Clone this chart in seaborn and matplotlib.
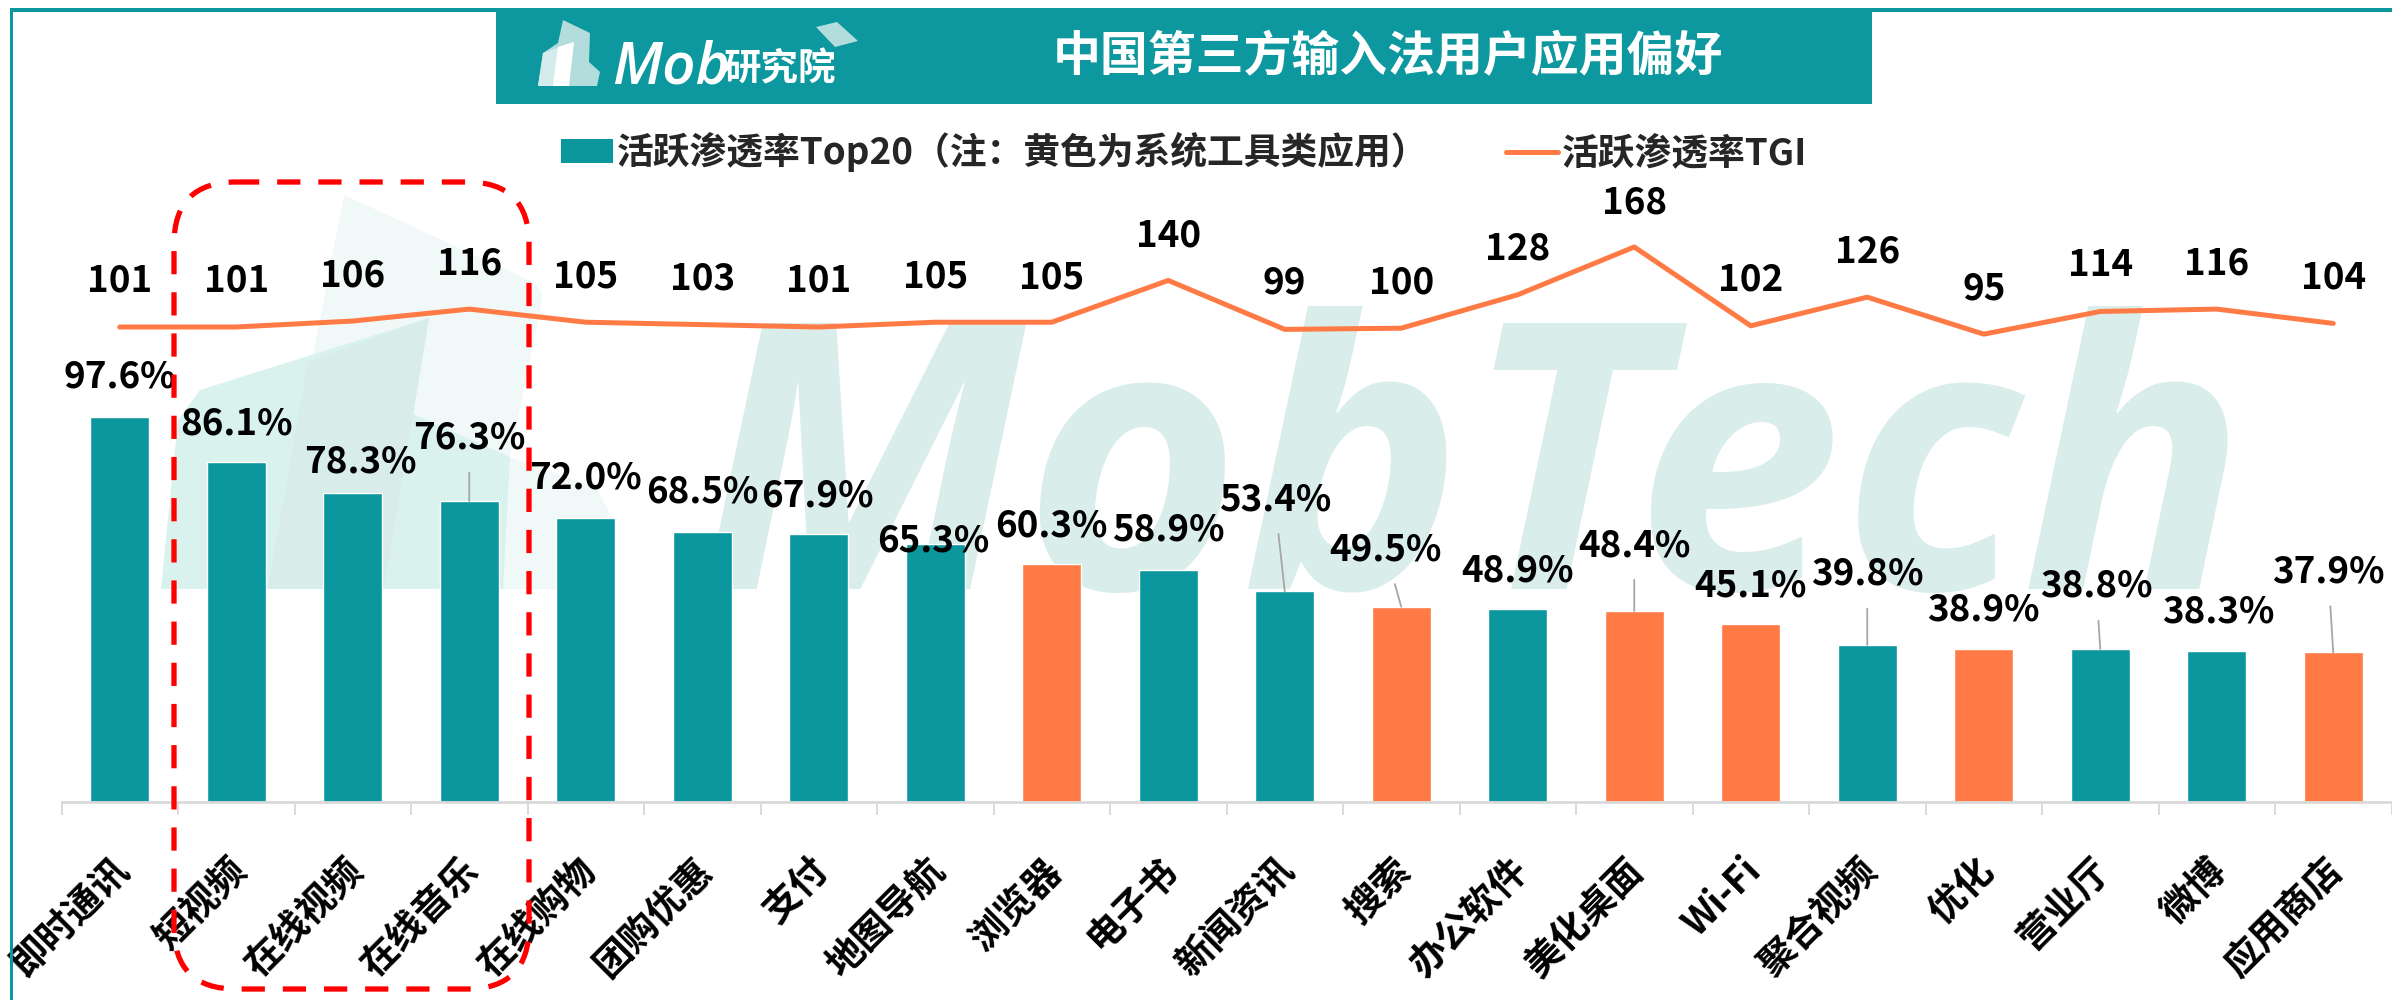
import numpy as np
import matplotlib
matplotlib.use('Agg')
import matplotlib.pyplot as plt
import seaborn as sns
from matplotlib.lines import Line2D
from matplotlib.patches import FancyBboxPatch, Patch, Polygon, Rectangle
from matplotlib.transforms import Affine2D, ScaledTranslation

# Data
categories = ['即时通讯', '短视频', '在线视频', '在线音乐', '在线购物', '团购优惠', '支付', '地图导航', '浏览器', '电子书',
              '新闻资讯', '搜索', '办公软件', '美化桌面', 'Wi-Fi', '聚合视频', '优化', '营业厅', '微博', '应用商店']
penetration = [97.6, 86.1, 78.3, 76.3, 72.0, 68.5, 67.9, 65.3, 60.3, 58.9,
               53.4, 49.5, 48.9, 48.4, 45.1, 39.8, 38.9, 38.8, 38.3, 37.9]
tgi = [101, 101, 106, 116, 105, 103, 101, 105, 105, 140,
       99, 100, 128, 168, 102, 126, 95, 114, 116, 104]
app_type = ['普通', '普通', '普通', '普通', '普通', '普通', '普通', '普通', '系统工具', '普通',
            '普通', '系统工具', '普通', '系统工具', '系统工具', '普通', '系统工具', '普通', '普通', '系统工具']

# Label offsets from the bar top / line point, in pixels
pct_dx = [0, 0, 8, 0, 0, 0, -1, -2, 0, 0, -10, -16, 0, 0, 0, 0, 0, -4, 2, -5]
pct_dy = [43, 42, 35, 66, 43, 43, 42, 7, 42, 43, 95, 60, 42, 69, 42, 74, 42, 66, 42, 84]
tgi_dy = [50, 49, 49, 49, 49, 49, 49, 49, 48, 48, 50, 49, 49, 48, 49, 49, 49, 49, 49, 49]
leader_bars = [3, 10, 11, 13, 15, 17, 19]

TEAL = '#0b979d'
ORANGE = '#ff7a45'
LABEL_SIZE = 26.5

sns.set_theme(style='white')
plt.rcParams['font.family'] = ['Noto Sans CJK SC', 'DejaVu Sans']

fig = plt.figure(figsize=(23.92, 10), dpi=100)
px = Affine2D().scale(1, -1).translate(0, 1000)  # top-left pixel coordinates

# Watermark behind the chart
for pts, col in [
    ([(344, 195), (535, 283), (543, 295), (510, 457), (596, 488), (608, 510), (600, 589), (268, 589)], '#f1f9f8'),
    ([(411, 413), (510, 457), (503, 589), (384, 589)], '#d9f2ee'),
    ([(161, 589), (178, 420), (200, 390), (429, 318), (384, 589)], '#d9f2ee'),
    ([(308, 362), (429, 318), (384, 589), (268, 589)], '#d8ecea'),
]:
    fig.add_artist(Polygon(pts, closed=True, fc=col, ec='none', transform=px, zorder=-5))
fig.text(696 / 2392, 1 - 589 / 1000, 'MobTech', family='Open Sans', style='italic', weight='bold',
         fontsize=268, color='#d9edeb', ha='left', va='baseline', zorder=-4)

# Chart
ax = fig.add_axes([61.5 / 2392, 1 - 802 / 1000, 2330 / 2392, 682 / 1000])
ax.patch.set_visible(False)
sns.barplot(x=categories, y=penetration, hue=app_type, palette={'普通': TEAL, '系统工具': ORANGE},
            dodge=False, width=0.505, saturation=1, legend=False, ax=ax)
ax.set_xlim(-0.5, 19.5)
ax.set_ylim(0, 682 / 3.945)
sns.despine(ax=ax, left=True)
ax.spines['bottom'].set_color('#d9d9d9')
ax.spines['bottom'].set_linewidth(2)
ax.set_yticks([])
ax.set_xticks(range(len(categories)))
ax.set_xticklabels(categories, rotation=45, ha='right', va='top', rotation_mode='anchor',
                   fontsize=27, fontweight='bold', color='black')
ax.set_xticks(np.arange(-0.5, 20), minor=True)
ax.tick_params(axis='x', which='major', length=0, pad=35)
ax.tick_params(axis='x', which='minor', length=9.5, width=1.4, color='#d9d9d9', bottom=True)
shift = ScaledTranslation(-10 / 100, 0, fig.dpi_scale_trans)
for lab in ax.get_xticklabels():
    lab.set_transform(lab.get_transform() + shift)

for i, v in enumerate(penetration):
    arrow = None
    if i in leader_bars:
        arrow = dict(arrowstyle='-', color='#a6a6a6', lw=1.3, shrinkA=9, shrinkB=0)
    ax.annotate(f'{v:.1f}%', xy=(i, v), xytext=(pct_dx[i], pct_dy[i] - 14), textcoords='offset pixels',
                ha='center', va='baseline', fontsize=LABEL_SIZE, fontweight='bold', color='black',
                arrowprops=arrow, annotation_clip=False)

ax2 = ax.twinx()
ax2.patch.set_visible(False)
sns.lineplot(x=np.arange(len(tgi)), y=tgi, color=ORANGE, linewidth=3.6, sort=False,
             solid_capstyle='round', ax=ax2)
ax2.set_ylim(101 - 475 / 1.194, 101 + 207 / 1.194)
ax2.set_yticks([])
ax2.set_ylabel('')
for s in ax2.spines.values():
    s.set_visible(False)
for i, v in enumerate(tgi):
    ax2.annotate(str(v), xy=(i, v), xytext=(0, tgi_dy[i] - 14), textcoords='offset pixels',
                 ha='center', va='baseline', fontsize=LABEL_SIZE, fontweight='bold', color='black')

handles = [Patch(fc=TEAL, ec='none'), Line2D([0], [0], color=ORANGE, lw=3.6, solid_capstyle='round')]
fig.legend(handles, ['活跃渗透率Top20（注：黄色为系统工具类应用）', '活跃渗透率TGI'], ncols=2, frameon=False,
           loc='upper left', bbox_to_anchor=(561 / 2392, 1 - 132 / 1000), borderpad=0, borderaxespad=0,
           handlelength=1.42, handleheight=0.62, handletextpad=0.1, columnspacing=2.1,
           prop=dict(size=26.5, weight='bold'))

# Frame and banner
fig.add_artist(Rectangle((10, 8), 3, 992, fc=TEAL, ec='none', transform=px, zorder=6))
fig.add_artist(Rectangle((10, 8), 2382, 4, fc=TEAL, ec='none', transform=px, zorder=6))
fig.add_artist(Rectangle((496, 8), 1376, 96, fc='#0c989e', ec='none', transform=px, zorder=6))
fig.text(1388 / 2392, 1 - 57 / 1000, '中国第三方输入法用户应用偏好', fontsize=34.5, fontweight='bold', color='white',
         ha='center', va='center', zorder=7)

# Banner logo
for pts, col in [
    ([(563, 20), (590, 33), (589, 62), (600, 72), (597, 86), (538, 86), (543, 53), (558, 43)], '#b3dcdc'),
    ([(543, 53), (574, 42), (568, 86), (538, 86)], '#d5ecec'),
    ([(558, 47), (574, 42), (569, 86), (553, 86)], 'white'),
    ([(816, 27), (837, 22), (858, 41), (835, 47)], '#b3dcdc'),
]:
    fig.add_artist(Polygon(pts, closed=True, fc=col, ec='none', transform=px, zorder=7))
fig.text(612 / 2392, 1 - 84 / 1000, 'Mob', family='Open Sans', style='italic', weight='semibold', fontsize=42,
         color='white', ha='left', va='baseline', zorder=7)
fig.text(723 / 2392, 1 - 80 / 1000, '研究院', fontsize=27, fontweight='bold', color='white', ha='left',
         va='baseline', zorder=7)

# Red dashed highlight box
fig.add_artist(FancyBboxPatch((174, 182), 355, 807, boxstyle='round,pad=0,rounding_size=62', fc='none',
                              ec='#ff0000', lw=3.8, linestyle=(0, (4.4, 3.4)), transform=px, zorder=8))

fig.savefig('out.png', dpi=100)
